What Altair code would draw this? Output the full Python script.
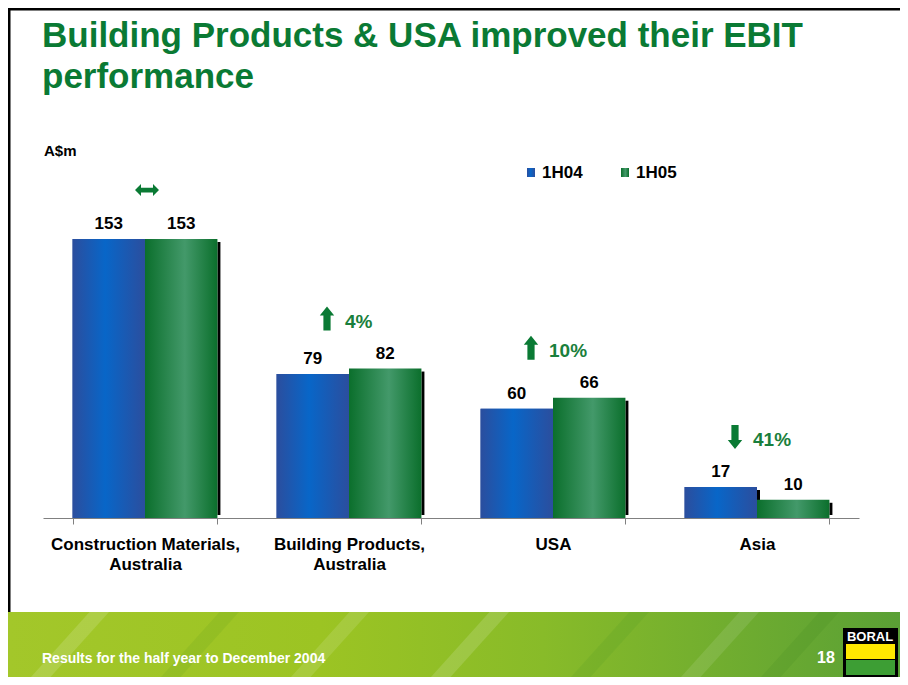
import altair as alt
import pandas as pd

# ---------------- data ----------------
categories = ["Construction Materials, Australia", "Building Products, Australia", "USA", "Asia"]
series_names = ["1H04", "1H05"]
ebit_1h04 = [153, 79, 60, 17]
ebit_1h05 = [153, 82, 66, 10]
change_labels = ["", "4%", "10%", "41%"]
change_dirs = ["flat", "up", "up", "down"]

title_lines = ["Building Products & USA improved their EBIT", "performance"]
unit_label = "A$m"
footer_text = "Results for the half year to December 2004"
page_number = "18"
logo_text = "BORAL"

# ---------------- layout helpers ----------------
PL, PT, W, H = 35, 109, 816, 401
PR = 892 - PL - W
PB = 669 - PT - H
FONT = "Liberation Sans"
GREEN = "#0a7a34"
PAD_IN, PAD_OUT = 0.29, 0.145
STEP = W / (len(categories) - PAD_IN + 2 * PAD_OUT)
BANDWIDTH = STEP * (1 - PAD_IN)


def X(px):
    return px - 8 - PL


def Y(py):
    return py - 8 - PT


bars = pd.DataFrame({
    "category": categories * 2,
    "series": [series_names[0]] * 4 + [series_names[1]] * 4,
    "value": ebit_1h04 + ebit_1h05,
})

ann = pd.DataFrame({
    "category": categories,
    "change": change_labels,
    "dir": change_dirs,
    "top": [max(a, b) for a, b in zip(ebit_1h04, ebit_1h05)],
})

one = pd.DataFrame({"k": [0]})

x_scale = alt.Scale(domain=categories, paddingInner=PAD_IN, paddingOuter=PAD_OUT)
x_enc = alt.X(
    "category:N",
    sort=categories,
    scale=x_scale,
    axis=alt.Axis(
        title=None, labelAngle=0,
        labelExpr="split(replace(datum.label, ', ', ',|'), '|')",
        labelFont=FONT, labelFontSize=17, labelFontWeight="bold", labelColor="black",
        labelLineHeight=20, labelPadding=12, labelLimit=300,
        domainColor="#808080", tickColor="#808080", tickBand="extent", tickSize=6,
        grid=False,
    ),
)
x_plain = alt.X("category:N", sort=categories)
y_enc = alt.Y("value:Q", scale=alt.Scale(domain=[0, 220]), axis=None)
xo_enc = alt.XOffset("series:N", scale=alt.Scale(domain=series_names, paddingInner=0, paddingOuter=0))


def grad(edge, mid, pos):
    return alt.Gradient(
        gradient="linear", x1=0, x2=1, y1=0, y2=0,
        stops=[alt.GradientStop(color=edge, offset=0),
               alt.GradientStop(color=mid, offset=pos),
               alt.GradientStop(color=edge, offset=1)],
    )


blue_grad = grad("#2b4e9e", "#0866c8", 0.45)
green_grad = grad("#0b6f2c", "#43996a", 0.55)

base = alt.Chart(bars)

bar_a = base.transform_filter(alt.datum.series == series_names[0]).mark_bar(color=blue_grad).encode(
    x=x_enc, y=y_enc, xOffset=xo_enc)
bar_b = base.transform_filter(alt.datum.series == series_names[1]).mark_bar(color=green_grad).encode(
    x=x_plain, y=y_enc, xOffset=xo_enc)

# drop shadow on the right edge of each bar (rules sit at band centre by default)
shadows = []
for s, shift in zip(series_names, [1.5, BANDWIDTH / 2 + 1.5]):
    shadows.append(
        base.transform_filter(alt.datum.series == s).mark_rule(
            color="black", strokeWidth=3, xOffset=shift, yOffset=3, y2Offset=-3).encode(
            x=x_plain, y=y_enc, y2=alt.datum(0))
    )

labels = base.mark_text(font=FONT, fontSize=17, fontWeight="bold", color="black",
                        baseline="alphabetic", dy=-10).encode(
    x=x_plain, y=y_enc, xOffset=xo_enc, text="value:Q")

# change annotations
UP = "M0,-1 L0.6,-0.25 L0.3,-0.25 L0.3,1 L-0.3,1 L-0.3,-0.25 L-0.6,-0.25 Z"
DOWN = "M0,1 L0.6,0.25 L0.3,0.25 L0.3,-1 L-0.3,-1 L-0.3,0.25 L-0.6,0.25 Z"
BOTH = "M-1,0 L-0.5,-0.5 L-0.5,-0.2 L0.5,-0.2 L0.5,-0.5 L1,0 L0.5,0.5 L0.5,0.2 L-0.5,0.2 L-0.5,0.5 Z"

ann_base = alt.Chart(ann)
ya = alt.Y("top:Q", scale=alt.Scale(domain=[0, 220]), axis=None)
shape_enc = alt.Shape("dir:N", scale=alt.Scale(domain=["flat", "up", "down"], range=[BOTH, UP, DOWN]), legend=None)

arrow_flat = ann_base.transform_filter(alt.datum.dir == "flat").mark_point(
    filled=True, opacity=1, color=GREEN, size=576, yOffset=-49, xOffset=2).encode(
    x=x_plain, y=ya, shape=shape_enc)
arrow_chg = ann_base.transform_filter(alt.datum.dir != "flat").mark_point(
    filled=True, opacity=1, color=GREEN, size=576, yOffset=-50, xOffset=-22).encode(
    x=x_plain, y=ya, shape=shape_enc)
chg_text = ann_base.transform_filter(alt.datum.dir != "flat").mark_text(
    font=FONT, fontSize=19, fontWeight="bold", color="#1a7f3c", align="left",
    baseline="middle", dx=-4, dy=-47).encode(x=x_plain, y=ya, text="change:N")


def txt(s, x, y, size, color="black", weight="bold", align="left"):
    return alt.Chart(one).mark_text(font=FONT, fontSize=size, fontWeight=weight, color=color,
                                    align=align, baseline="alphabetic").encode(
        x=alt.value(X(x)), y=alt.value(Y(y)), text=alt.value(s))


def rect(x1, y1, x2, y2, color, **kw):
    return alt.Chart(one).mark_rect(color=color, **kw).encode(
        x=alt.value(X(x1)), x2=alt.value(X(x2)), y=alt.value(Y(y1)), y2=alt.value(Y(y2)))


def rule(x1, y1, x2, y2, color, width, opacity=1):
    return alt.Chart(one).mark_rule(color=color, strokeWidth=width, opacity=opacity).encode(
        x=alt.value(X(x1)), x2=alt.value(X(x2)), y=alt.value(Y(y1)), y2=alt.value(Y(y2)))


STRIPE = "M-1.2,1 L-0.6,1 L1.2,-1 L0.6,-1 Z"


def stripe(cx, color, opacity):
    return alt.Chart(one).mark_point(shape=STRIPE, filled=True, color=color, opacity=opacity,
                                     size=65 * 65, strokeWidth=0).encode(
        x=alt.value(X(cx)), y=alt.value(Y(644.5)))


# title & unit
t1 = txt(title_lines[0], 42, 47, 35, color=GREEN)
t2 = txt(title_lines[1], 42, 88, 35, color=GREEN)
unit = txt(unit_label, 44, 156, 15)

# legend
leg = [
    rect(527, 168, 535, 177, blue_grad),
    txt(series_names[0], 542, 178, 17),
    rect(621, 168, 629, 177, green_grad),
    txt(series_names[1], 636, 178, 17),
]

# slide border
border = [rule(8, 9, 900, 9, "black", 3), rule(9, 8, 9, 612, "black", 3)]

# footer band
footer_grad = alt.Gradient(
    gradient="linear", x1=0, x2=1, y1=0, y2=0,
    stops=[alt.GradientStop(color="#a3c72a", offset=0),
           alt.GradientStop(color="#9cc423", offset=0.35),
           alt.GradientStop(color="#88bb29", offset=0.6),
           alt.GradientStop(color="#5aa035", offset=1)],
)
footer = [rect(8, 612, 900, 677, footer_grad)]
for cx, col, op in [(70, "#ffffff", 0.14), (200, "#4a8f1c", 0.12), (330, "#ffffff", 0.12),
                    (470, "#ffffff", 0.14), (610, "#3d8a1e", 0.12), (720, "#ffffff", 0.10),
                    (800, "#2f7f1a", 0.12)]:
    footer.append(stripe(cx, col, op))
footer += [
    txt(footer_text, 42, 663, 14, color="white"),
    txt(page_number, 817, 663, 16, color="white"),
    rect(843, 628, 898, 677, "black"),
    rect(846, 644, 895, 659, "#ffe800"),
    rect(846, 660, 895, 675, "#3d9e34"),
    txt(logo_text, 870, 641, 13, color="white", align="center"),
]

chart = alt.layer(
    bar_a,
    *border, *footer,
    *shadows, bar_a, bar_b, labels,
    arrow_flat, arrow_chg, chg_text,
    t1, t2, unit, *leg,
).properties(
    width=W, height=H,
    autosize=alt.AutoSizeParams(type="none"),
    padding={"left": PL, "top": PT, "right": PR, "bottom": PB},
    background="white",
).configure_view(stroke=None)

chart.save("out.html", embed_options={"renderer": "svg", "actions": False})
